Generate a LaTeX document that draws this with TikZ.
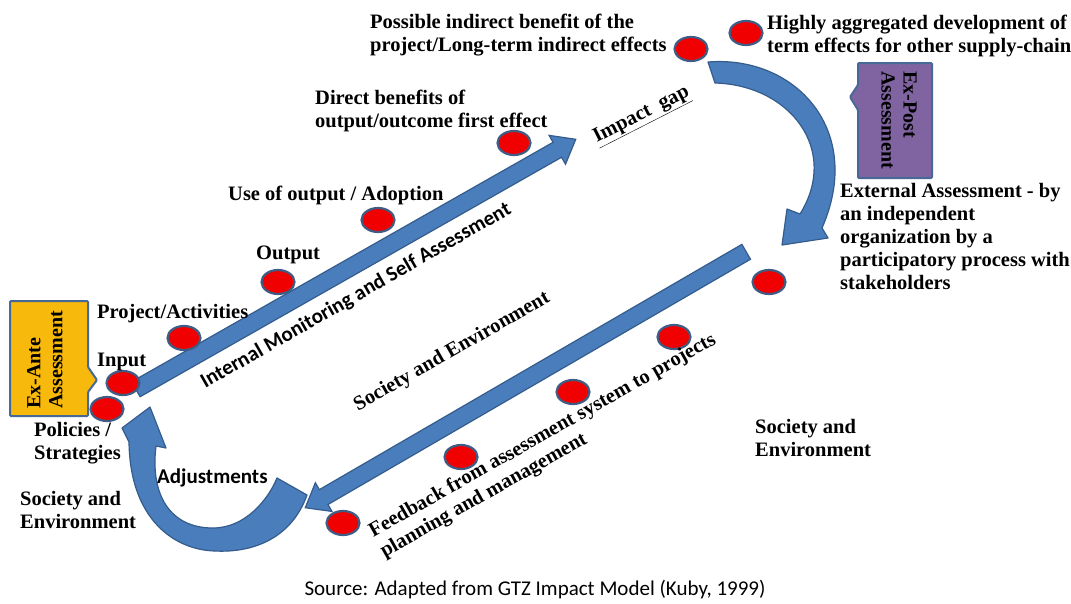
\documentclass[tikz,border=0pt]{standalone}
\usepackage{fontspec}
\setmainfont{Liberation Serif}
\newfontfamily\calibri{Carlito}
\usetikzlibrary{shapes.geometric,shapes.arrows,calc}

\definecolor{arrowblue}{RGB}{74,125,187}
\definecolor{arrowedge}{RGB}{52,92,140}
\definecolor{dotred}{RGB}{240,0,0}
\definecolor{dotedge}{RGB}{62,92,132}
\definecolor{antegold}{RGB}{247,185,12}
\definecolor{postpurple}{RGB}{128,100,162}
\definecolor{boxedge}{RGB}{70,105,150}

\tikzset{
  dot/.style={ellipse, draw=dotedge, fill=dotred, line width=2.2pt,
              minimum width=33pt, minimum height=24pt, inner sep=0pt},
  lbl/.style={font=\bfseries\fontsize{20.5}{23}\selectfont, align=left,
              inner sep=0pt, anchor=north west},
  sanslbl/.style={font=\calibri\bfseries\fontsize{21}{24}\selectfont, inner sep=0pt},
  boxlbl/.style={font=\bfseries\fontsize{20}{22}\selectfont, align=left,
                 inner sep=0pt, anchor=north west},
  flow/.style={single arrow, draw=arrowedge, fill=arrowblue, line width=1.2pt,
               inner sep=8pt, minimum width=32pt, single arrow head extend=8pt,
               single arrow tip angle=76},
  curvedarrow/.style={draw=arrowedge, fill=arrowblue, line width=1.2pt, line join=round},
  assess/.style={draw=boxedge, line width=2pt, rounded corners=1pt}
}

\begin{document}
\begin{tikzpicture}[x=1pt,y=-1pt]
  \useasboundingbox (0,0) rectangle (1071,603);

  % curved arrows
  \path[curvedarrow] (708,62) .. controls (795,55) and (865,130) .. (822,228)
        -- (828,238) -- (782,245) -- (787,209) -- (800,214)
        .. controls (840,150) and (790,85) .. (715,83) -- cycle;
  \path[curvedarrow] (277,478) -- (307,495) .. controls (292,537) and (255,553) .. (215,551)
        .. controls (175,550) and (130,520) .. (129,442) -- (122,428) -- (150,407)
        -- (166,448) -- (156,446) .. controls (150,495) and (170,528) .. (213,528)
        .. controls (245,528) and (268,500) .. (277,478) -- cycle;

  % straight arrows
  \coordinate (mon-s) at (131,392);
  \coordinate (mon-e) at (571,142);
  \coordinate (fb-s)  at (751,249);
  \coordinate (fb-e)  at (310,505);
  \path let \p1=($(mon-e)-(mon-s)$) in
    node[flow, minimum height={veclen(\x1,\y1)}, rotate={atan2(\y1,\x1)}]
      (monitor) at ($(mon-s)!0.5!(mon-e)$) {};
  \path let \p1=($(fb-e)-(fb-s)$) in
    node[flow, minimum height={veclen(\x1,\y1)}, rotate={atan2(\y1,\x1)}]
      (feedback) at ($(fb-s)!0.5!(fb-e)$) {};

  % assessment boxes
  \path[assess, fill=antegold] (10,301) -- (88,301) -- (88,367) -- (97,380)
        -- (88,392) -- (88,416) -- (10,416) -- cycle;
  \path[assess, fill=postpurple] (858,63) -- (932,63) -- (932,178) -- (858,178)
        -- (858,110) -- (850,97) -- (858,85) -- cycle;
  \node[boxlbl, rotate=90]  (ante) at (27,409) {Ex-Ante\\Assessment};
  \node[boxlbl, rotate=-90] (post) at (917,71) {Ex-Post\\Assessment};

  % dots
  \node[dot] (input)    at (123,383) {};
  \node[dot] (policies) at (107,409) {};
  \node[dot] (projact)  at (184,338) {};
  \node[dot] (output)   at (278,282) {};
  \node[dot] (useout)   at (378,220) {};
  \node[dot] (direct)   at (514,143) {};
  \node[dot] (indirect) at (691,49)  {};
  \node[dot] (aggr)     at (746,33)  {};
  \node[dot] (stake)    at (769,282) {};
  \node[dot] (fb1)      at (674,337) {};
  \node[dot] (fb2)      at (573,392) {};
  \node[dot] (fb3)      at (461,457) {};
  \node[dot] (fb4)      at (343,523) {};

  % labels
  \node[lbl] (t-indirect) at (370,13.5) {Possible indirect benefit of the\\project/Long-term  indirect effects};
  \node[lbl] (t-aggr)     at (767,15)   {Highly aggregated development of\\term effects for other supply-chain};
  \node[lbl] (t-direct)   at (315,89.5) {Direct benefits of\\output/outcome  first effect};
  \node[lbl] (t-useout)   at (228,185.5) {Use of output  / Adoption};
  \node[lbl] (t-output)   at (256,246)  {Output};
  \node[lbl] (t-projact)  at (97,304)   {Project/Activities};
  \node[lbl] (t-input)    at (97,352.5) {Input};
  \node[lbl] (t-policies) at (34,422.5) {Policies /\\Strategies};
  \node[lbl] (t-socleft)  at (20,491.5) {Society and\\Environment};
  \node[lbl] (t-ext)      at (840,183.5) {External Assessment - by\\an independent\\organization  by a\\participatory  process with\\stakeholders};
  \node[lbl] (t-socright) at (755,419.5) {Society and\\Environment};
  \node[lbl, anchor=center, rotate=27] (t-gap) at (642,116) {\underline{Impact\ \ gap}};
  \node[lbl, anchor=center, rotate=29.7] (t-socmid) at (452,352) {Society  and  Environment};
  \node[lbl, rotate=29.5] (t-feedback) at (366,525) {Feedback from assessment system to projects\\planning  and management};
  \node[sanslbl, rotate=29.8] (t-monitor) at (356,296) {Internal Monitoring and Self Assessment};
  \node[sanslbl, anchor=west] (t-adjust) at (157,478) {Adjustments};
  \node[font=\calibri\fontsize{21}{24}\selectfont, inner sep=0pt] (source) at (535,590)
       {Source: Adapted from GTZ Impact Model (Kuby, 1999)};
\end{tikzpicture}
\end{document}
